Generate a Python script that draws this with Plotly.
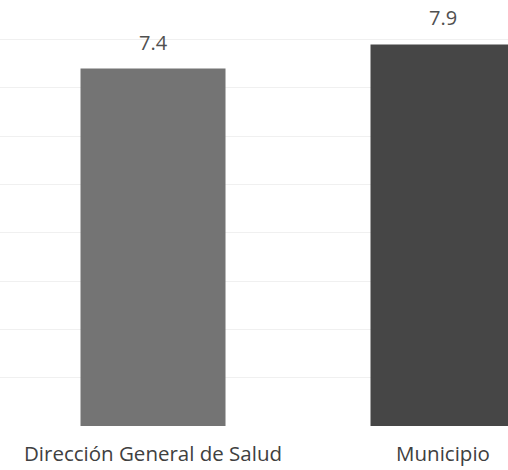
import plotly.graph_objects as go

categories = ["Dirección General de Salud", "Municipio"]
values = [7.4, 7.9]
value_labels = ["7.4", "7.9"]
bar_colors = ["#747474", "#464646"]

FONT = "Open Sans, Lato, sans-serif"

fig = go.Figure(
    go.Bar(
        x=categories,
        y=values,
        marker=dict(color=bar_colors, line=dict(width=0)),
        hoverinfo="x+y",
    )
)

for cat, val, lab in zip(categories, values, value_labels):
    fig.add_annotation(
        x=cat,
        y=val,
        text=lab,
        showarrow=False,
        yanchor="bottom",
        yshift=11,
        font=dict(family=FONT, size=20, color="#505050"),
    )

fig.update_layout(
    width=508,
    height=470,
    margin=dict(l=0, r=0, t=1, b=44, autoexpand=False),
    paper_bgcolor="white",
    plot_bgcolor="white",
    bargap=0.5,
    showlegend=False,
    font=dict(family=FONT, color="#404040"),
)
fig.update_xaxes(
    range=[-0.5276, 1.2241],
    automargin=False,
    showline=False,
    ticks="outside",
    ticklen=9,
    tickcolor="white",
    tickfont=dict(family=FONT, size=20.5, color="#404040"),
)
fig.update_yaxes(
    range=[0, 8.8],
    dtick=1,
    automargin=False,
    showticklabels=False,
    showgrid=True,
    gridcolor="#f0f0f0",
    zeroline=False,
)

fig.write_html(
    "out.html",
    config={"displayModeBar": False},
    post_script="document.body.style.margin='0';document.body.style.overflow='hidden';",
)
